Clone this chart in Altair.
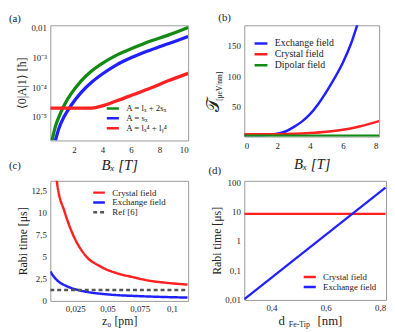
import altair as alt
import pandas as pd

FONT = "Liberation Serif"
RED = "#ff2020"
BLUE = "#2020ff"
GREEN = "#138a13"

# ---------- panel (a) ----------
a_labels = ["A = lₓ + 2sₓ", "A = sₓ", "A = lₓ⁴ + lᵧ⁴"]
a_green_x = [0.47, 0.71, 0.96, 1.32, 1.81, 2.53, 3.26, 3.99, 4.96, 6.17, 7.38, 8.6, 10.0]
a_green_y = [1.62e-6, 4.8e-6, 1.02e-5, 2.45e-5, 6.0e-5, 1.66e-4, 3.55e-4, 6.3e-4, 1.17e-3, 2.09e-3, 3.55e-3, 5.6e-3, 1.02e-2]
a_blue_x = [0.71, 0.96, 1.32, 1.81, 2.53, 3.26, 3.99, 4.96, 6.17, 7.38, 8.6, 10.0]
a_blue_y = [1.62e-6, 4.2e-6, 1.02e-5, 2.45e-5, 6.8e-5, 1.48e-4, 2.75e-4, 5.5e-4, 1.05e-3, 1.78e-3, 2.88e-3, 5.0e-3]
a_red_x = [0.35, 1.5, 2.53, 3.26, 3.99, 4.96, 6.17, 7.38, 8.6, 10.0]
a_red_y = [1.95e-5, 1.95e-5, 1.95e-5, 1.97e-5, 2.34e-5, 3.4e-5, 5.6e-5, 9.3e-5, 1.62e-4, 2.9e-4]
a_xticks = [2, 4, 6, 8, 10]
a_yticks = [1e-5, 1e-4, 1e-3, 1e-2]

# ---------- panel (b) ----------
b_labels = ["Exchange field", "Crystal field", "Dipolar field"]
b_blue_x = [0, 1, 1.5, 2, 2.5, 3, 3.5, 4, 4.5, 5, 5.5, 6, 6.5, 6.9]
b_blue_y = [4.5, 4.6, 5.2, 6.8, 10.5, 17.5, 26.5, 38.5, 55, 75, 97, 122, 153, 185]
b_red_x = [0, 1, 2, 3, 4, 5, 6, 7, 8.2]
b_red_y = [6.0, 6.0, 6.2, 6.8, 8.0, 10.0, 13.3, 18.7, 27.3]
b_green_x = [0, 8.2]
b_green_y = [3.6, 3.6]
b_xticks = [0, 2, 4, 6, 8]
b_yticks = [50, 100, 150]

# ---------- panel (c) ----------
c_labels = ["Crystal field", "Exchange field", "Ref  [6]"]
c_red_x = [0.0095, 0.0108, 0.017, 0.0233, 0.032, 0.0445, 0.057, 0.0695, 0.082, 0.0945, 0.112]
c_red_y = [15.5, 13.5, 10.0, 7.5, 5.3, 3.9, 3.15, 2.7, 2.3, 2.07, 1.85]
c_blue_x = [0.0057, 0.0095, 0.012, 0.018, 0.0265, 0.035, 0.0515, 0.075, 0.095, 0.112]
c_blue_y = [3.33, 2.55, 2.2, 1.7, 1.26, 1.0, 0.72, 0.54, 0.44, 0.38]
c_ref_x = [0.0057, 0.112]
c_ref_y = [1.23, 1.23]
c_xticks = [0.025, 0.05, 0.075, 0.1]
c_yticks = [0, 2.5, 5, 7.5, 10, 12.5]

# ---------- panel (d) ----------
d_labels = ["Crystal field", "Exchange field"]
d_red_x = [0.3, 0.82]
d_red_y = [8.5, 8.5]
d_blue_x = [0.3, 0.82]
d_blue_y = [0.01, 67]
d_xticks = [0.4, 0.6, 0.8]
d_yticks = [0.01, 0.1, 1, 10, 100]

COMMA = "replace(toString(datum.value), '.', ',')"


def frame(xs, ys, label):
    return pd.DataFrame({"x": xs, "y": ys, "s": [label] * len(xs)})


one = pd.DataFrame({"k": [0]})


def txt(s, x, y, size=11, angle=0, style="normal", align="center"):
    return alt.Chart(one).mark_text(
        font=FONT, fontSize=size, angle=angle, fontStyle=style, align=align,
        baseline="middle", color="#222"
    ).encode(x=alt.value(x), y=alt.value(y), text=alt.value(s))


def legend(lx, ly, size=9, row=9, sym=150, width=2.5):
    kw = dict(
        title=None, orient="none", legendX=lx, legendY=ly, symbolType="stroke",
        symbolSize=sym, labelFont=FONT, labelFontSize=size,
        rowPadding=0, clipHeight=row, padding=0, labelOffset=6, labelColor="#222"
    )
    if width:
        kw["symbolStrokeWidth"] = width
    return alt.Legend(**kw)


# (a)
da = pd.concat([frame(a_green_x, a_green_y, a_labels[0]),
                frame(a_blue_x, a_blue_y, a_labels[1]),
                frame(a_red_x, a_red_y, a_labels[2])])
pa = alt.Chart(da).mark_line(strokeWidth=3.3, clip=True, interpolate="monotone").encode(
    x=alt.X("x:Q", scale=alt.Scale(domain=[0.35, 10], nice=False),
            axis=alt.Axis(values=a_xticks, title="Bₓ [T]", titleFontSize=15,
                          titleFontStyle="italic", titlePadding=3, labelPadding=5)),
    y=alt.Y("y:Q", scale=alt.Scale(type="log", domain=[1.6e-6, 0.012], nice=False),
            axis=alt.Axis(values=a_yticks, title="⟨0|A|1⟩ [ħ]", titleFontSize=12, titlePadding=2,
                          labelExpr="datum.value > 0.005 ? '0,01' : datum.value > 5e-4 ? '10⁻³' : datum.value > 5e-5 ? '10⁻⁴' : '10⁻⁵'")),
    color=alt.Color("s:N", scale=alt.Scale(domain=a_labels, range=[GREEN, BLUE, RED]),
                    legend=legend(56, 80, size=9, row=9, sym=150)),
)
panel_a = alt.layer(pa, txt("(a)", -36, -6)).properties(width=140, height=117)

# (b)
db = pd.concat([frame(b_blue_x, b_blue_y, b_labels[0]),
                frame(b_red_x, b_red_y, b_labels[1]),
                frame(b_green_x, b_green_y, b_labels[2])])
pb = alt.Chart(db).mark_line(strokeWidth=2.5, clip=True, interpolate="monotone").encode(
    x=alt.X("x:Q", scale=alt.Scale(domain=[0, 8.2], nice=False),
            axis=alt.Axis(values=b_xticks, title="Bₓ [T]", titleFontSize=15,
                          titleFontStyle="italic", titlePadding=6, labelPadding=5)),
    y=alt.Y("y:Q", scale=alt.Scale(domain=[2.4, 182], nice=False),
            axis=alt.Axis(values=b_yticks, title=None)),
    color=alt.Color("s:N", scale=alt.Scale(domain=b_labels, range=[BLUE, RED, GREEN]),
                    legend=legend(9, 13, size=10, row=11, sym=170)),
)
panel_b = alt.layer(
    pb,
    txt("𝒯", -31, 81, size=18, angle=270),
    txt("[μeV/nm]", -25, 62, size=7.5, angle=270),
    txt("(b)", -20, -7),
).properties(width=137, height=113)

# (c)
dc = pd.concat([frame(c_red_x, c_red_y, c_labels[0]),
                frame(c_blue_x, c_blue_y, c_labels[1]),
                frame(c_ref_x, c_ref_y, c_labels[2])])
c_leg = legend(42, 7, size=9, row=10, sym=140, width=None)
pc = alt.Chart(dc).mark_line(clip=True, interpolate="monotone").encode(
    x=alt.X("x:Q", scale=alt.Scale(domain=[0.0057, 0.1125], nice=False),
            axis=alt.Axis(values=c_xticks, labelExpr=COMMA, title="z₀ [pm]",
                          titleFontSize=12, titlePadding=2)),
    y=alt.Y("y:Q", scale=alt.Scale(domain=[0, 13.6], nice=False),
            axis=alt.Axis(values=c_yticks, labelExpr=COMMA, title="Rabi time [μs]",
                          titleFontSize=12, titlePadding=1)),
    color=alt.Color("s:N", scale=alt.Scale(domain=c_labels, range=[RED, BLUE, "#555555"]),
                    legend=c_leg),
    strokeDash=alt.StrokeDash("s:N", scale=alt.Scale(domain=c_labels, range=[[1, 0], [1, 0], [4, 3]]),
                              legend=c_leg),
    strokeWidth=alt.StrokeWidth("s:N", scale=alt.Scale(domain=c_labels, range=[2.5, 2.5, 1]),
                                legend=c_leg),
)
panel_c = alt.layer(pc, txt("(c)", -36, -15)).properties(width=140, height=122)

# (d)
dd = pd.concat([frame(d_red_x, d_red_y, d_labels[0]),
                frame(d_blue_x, d_blue_y, d_labels[1])])
pd_ = alt.Chart(dd).mark_line(strokeWidth=2.2, clip=True).encode(
    x=alt.X("x:Q", scale=alt.Scale(domain=[0.3, 0.822], nice=False),
            axis=alt.Axis(values=d_xticks, labelExpr=COMMA, title=None)),
    y=alt.Y("y:Q", scale=alt.Scale(type="log", domain=[0.0095, 115], nice=False),
            axis=alt.Axis(values=d_yticks, labelExpr=COMMA, title="Rabi time [μs]",
                          titleFontSize=12, titlePadding=1)),
    color=alt.Color("s:N", scale=alt.Scale(domain=d_labels, range=[RED, BLUE]),
                    legend=legend(59, 93, size=9, row=9.5, sym=150)),
)
panel_d = alt.layer(
    pd_,
    txt("d", 38, 142, size=13),
    txt("Fe-Tip", 56, 146, size=8),
    txt("[nm]", 87, 142, size=13),
    txt("(d)", -30, -10),
).properties(width=144, height=121)

chart = alt.concat(
    panel_a, panel_b, panel_c, panel_d, columns=2, bounds="flush", align="each",
    spacing={"row": 41, "column": 57}
).resolve_scale(
    color="independent", strokeDash="independent", strokeWidth="independent"
).properties(padding={"left": 0, "top": 1, "right": 0, "bottom": 0}).configure_axis(
    labelFont=FONT, titleFont=FONT, labelFontSize=9, titleFontWeight="normal",
    grid=False, domain=False, ticks=False, labelColor="#222", titleColor="#222",
    labelPadding=4,
).configure_view(stroke="#999", strokeWidth=1)

chart.save("out.html", embed_options={"renderer": "svg", "actions": False})
